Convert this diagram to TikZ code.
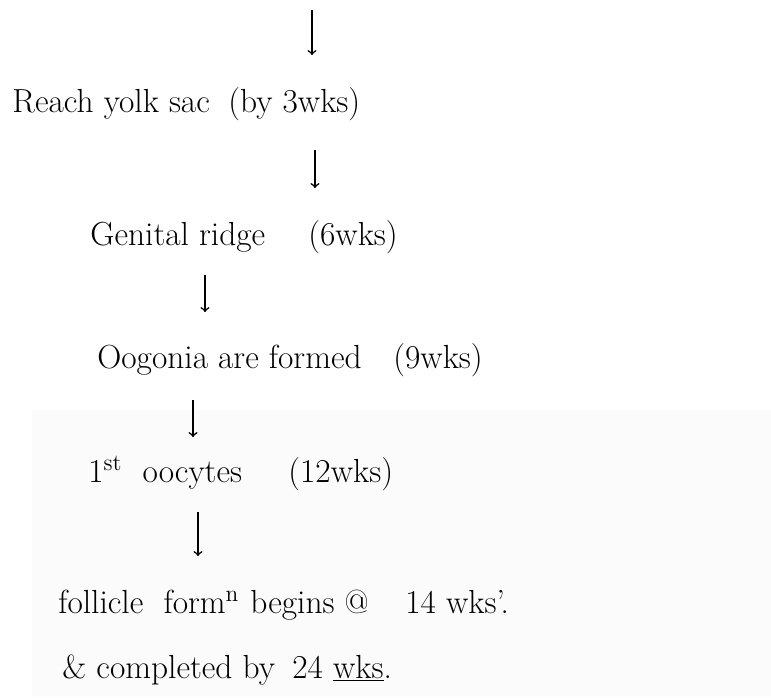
\documentclass[tikz,border=0pt]{standalone}
\usetikzlibrary{positioning}
\begin{document}
\begin{tikzpicture}[x=0.02cm, y=-0.02cm,
		hand/.style={font=\fontsize{19}{22}\selectfont, inner sep=0pt, anchor=base west},
		flow/.style={->, line width=0.9pt}]
		\useasboundingbox (0, 0) rectangle (771, 697);
		\fill[black!1.5] (32, 410) rectangle (771, 697);
		% stages
		\node [hand] (yolk) at (12, 112) {Reach yolk sac};
		\node [hand] (yolkwk) at (228, 112) {(by 3wks)};
		\node [hand] (ridge) at (90, 245) {Genital ridge};
		\node [hand] (ridgewk) at (308, 245) {(6wks)};
		\node [hand] (oogonia) at (97, 368) {Oogonia are formed};
		\node [hand] (oogoniawk) at (393, 368) {(9wks)};
		\node [hand] (oocyte) at (88, 482) {1\textsuperscript{st}\ \ oocytes};
		\node [hand] (oocytewk) at (288, 482) {(12wks)};
		\node [hand] (follicle) at (58, 613) {follicle\ \ form\textsuperscript{n}};
		\node [hand] (begins) at (250, 613) {begins @};
		\node [hand] (begwk) at (405, 613) {14 wks'.};
		\node [hand] (complete) at (62, 678) {\& completed by};
		\node [hand] (compwk) at (292, 678) {24 \underline{wks}.};
		% arrows
		\coordinate (a1s) at (312, 10);
		\coordinate (a1e) at (312, 55);
		\coordinate (a2s) at (315, 150);
		\coordinate (a2e) at (315, 188);
		\coordinate (a3s) at (205, 275);
		\coordinate (a3e) at (205, 312);
		\coordinate (a4s) at (193, 400);
		\coordinate (a4e) at (193, 437);
		\coordinate (a5s) at (198, 512);
		\coordinate (a5e) at (198, 556);
		\draw [flow] (a1s) to (a1e);
		\draw [flow] (a2s) to (a2e);
		\draw [flow] (a3s) to (a3e);
		\draw [flow] (a4s) to (a4e);
		\draw [flow] (a5s) to (a5e);
\end{tikzpicture}
\end{document}
